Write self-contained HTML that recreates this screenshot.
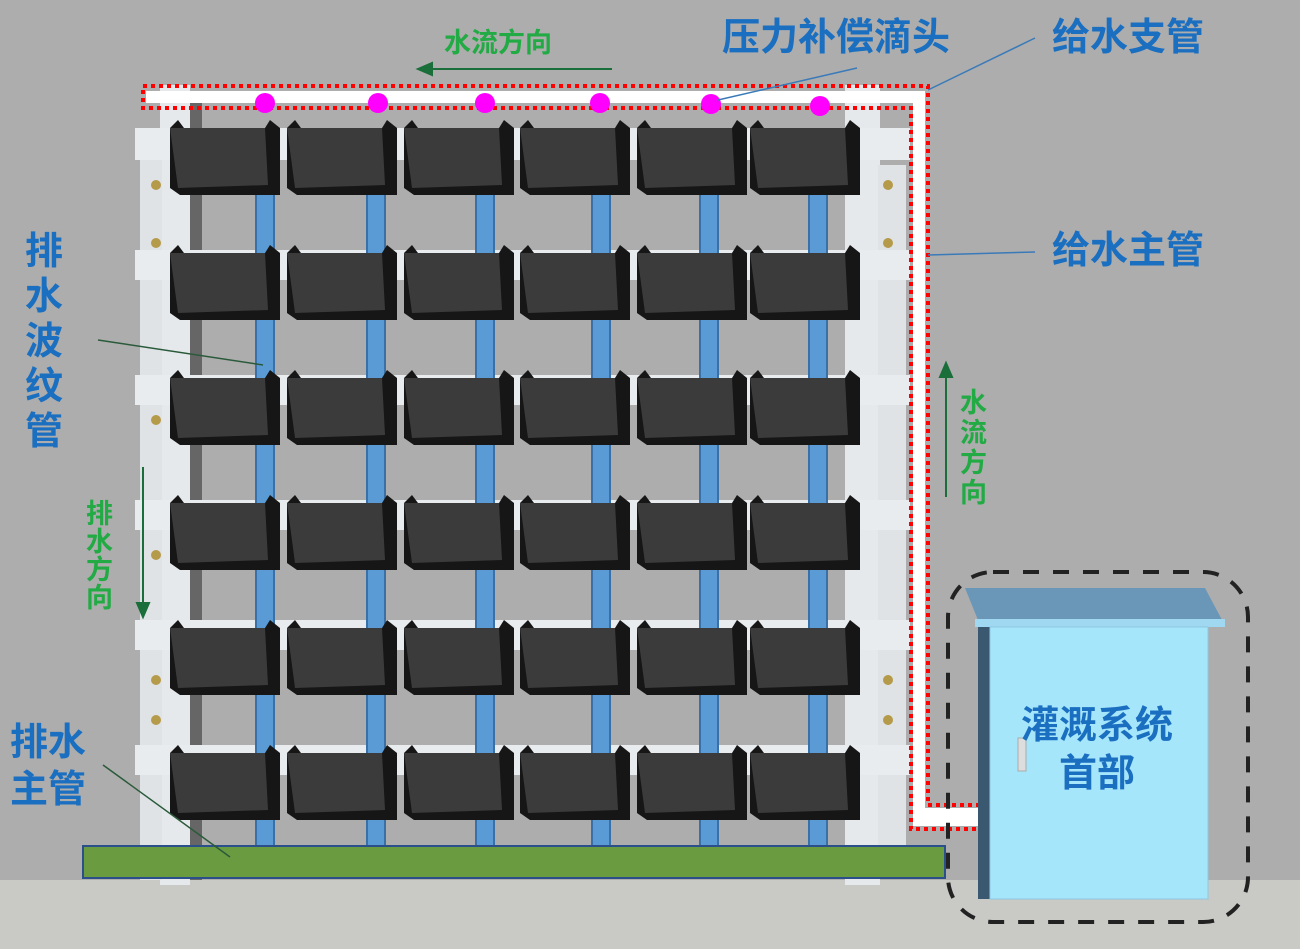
<!DOCTYPE html>
<html><head><meta charset="utf-8"><style>body{margin:0;}svg{display:block}</style></head><body>
<svg width="1300" height="949" viewBox="0 0 1300 949" xmlns="http://www.w3.org/2000/svg" font-family="Liberation Sans, Noto Sans CJK SC, sans-serif" font-weight="bold">
<rect width="1300" height="949" fill="#adadad"/>
<rect y="880" width="1300" height="69" fill="#c9c9c5"/>
<rect x="160" y="85" width="30" height="800" fill="#e6e9ec"/>
<rect x="140" y="160" width="22" height="720" fill="#dfe3e6"/>
<rect x="190" y="100" width="12" height="780" fill="#666"/>
<rect x="845" y="85" width="35" height="800" fill="#e6e9ec"/>
<rect x="878" y="165" width="28" height="700" fill="#dfe3e6"/>
<g fill="#e9ecef">
<rect x="135" y="128" width="775" height="32"/><rect x="135" y="250" width="775" height="30"/>
<rect x="135" y="375" width="775" height="30"/><rect x="135" y="500" width="775" height="30"/>
<rect x="135" y="620" width="775" height="30"/><rect x="135" y="745" width="775" height="30"/>
</g>
<g fill="#b59a4a">
<circle cx="156" cy="185" r="5"/><circle cx="156" cy="243" r="5"/><circle cx="156" cy="420" r="5"/><circle cx="156" cy="555" r="5"/><circle cx="156" cy="680" r="5"/><circle cx="156" cy="720" r="5"/>
<circle cx="888" cy="185" r="5"/><circle cx="888" cy="243" r="5"/><circle cx="888" cy="680" r="5"/><circle cx="888" cy="720" r="5"/>
</g>
<g fill="#5b9bd5" stroke="#3a70a8" stroke-width="2">
<rect x="256" y="190" width="18" height="660"/><rect x="367" y="190" width="18" height="660"/><rect x="476" y="190" width="18" height="660"/>
<rect x="592" y="190" width="18" height="660"/><rect x="700" y="190" width="18" height="660"/><rect x="809" y="190" width="18" height="660"/>
</g>
<defs>
<g id="pot">
<polygon points="0,8 95,8 100,0 110,8 110,75 10,75 0,68" fill="#161616"/>
<polygon points="0,8 95,8 98,65 8,68" fill="#3b3b3b"/>
<polygon points="0,8 8,0 14,8" fill="#161616"/>
</g>
</defs>
<g>
<use href="#pot" x="170" y="120"/><use href="#pot" x="287" y="120"/><use href="#pot" x="404" y="120"/><use href="#pot" x="520" y="120"/><use href="#pot" x="637" y="120"/><use href="#pot" x="750" y="120"/>
<use href="#pot" x="170" y="245"/><use href="#pot" x="287" y="245"/><use href="#pot" x="404" y="245"/><use href="#pot" x="520" y="245"/><use href="#pot" x="637" y="245"/><use href="#pot" x="750" y="245"/>
<use href="#pot" x="170" y="370"/><use href="#pot" x="287" y="370"/><use href="#pot" x="404" y="370"/><use href="#pot" x="520" y="370"/><use href="#pot" x="637" y="370"/><use href="#pot" x="750" y="370"/>
<use href="#pot" x="170" y="495"/><use href="#pot" x="287" y="495"/><use href="#pot" x="404" y="495"/><use href="#pot" x="520" y="495"/><use href="#pot" x="637" y="495"/><use href="#pot" x="750" y="495"/>
<use href="#pot" x="170" y="620"/><use href="#pot" x="287" y="620"/><use href="#pot" x="404" y="620"/><use href="#pot" x="520" y="620"/><use href="#pot" x="637" y="620"/><use href="#pot" x="750" y="620"/>
<use href="#pot" x="170" y="745"/><use href="#pot" x="287" y="745"/><use href="#pot" x="404" y="745"/><use href="#pot" x="520" y="745"/><use href="#pot" x="637" y="745"/><use href="#pot" x="750" y="745"/>
</g>
<rect x="83" y="846" width="862" height="32" fill="#6a9b40" stroke="#2a4f8a" stroke-width="2"/>
<rect x="146" y="91" width="778" height="12" fill="#fff"/>
<rect x="913" y="91" width="12" height="720" fill="#fff"/>
<rect x="913" y="808" width="70" height="18" fill="#fff"/>
<g fill="none" stroke="#f00" stroke-width="4" stroke-dasharray="4,4">
<polyline points="143,86 928,86 928,805 984,805 984,829 911,829 911,108 143,108 143,86"/>
</g>
<g fill="#f0f">
<circle cx="265" cy="103" r="10"/><circle cx="378" cy="103" r="10"/><circle cx="485" cy="103" r="10"/><circle cx="600" cy="103" r="10"/><circle cx="711" cy="104" r="10"/><circle cx="820" cy="106" r="10"/>
</g>
<rect x="948" y="572" width="300" height="350" rx="45" fill="none" stroke="#222" stroke-width="4" stroke-dasharray="16,14"/>
<polygon points="965,588 1205,588 1222,620 978,620" fill="#6a96b8"/>
<rect x="975" y="619" width="250" height="8" fill="#9fd8f0"/>
<rect x="978" y="627" width="12" height="272" fill="#3a5870"/>
<rect x="990" y="627" width="218" height="272" fill="#a6e6fb" stroke="#8ec8e0"/>
<rect x="1018" y="738" width="8" height="33" fill="#ddd" stroke="#aaa"/>
<text x="1097" y="738" font-size="38" fill="#1a6fc0" text-anchor="middle">灌溉系统</text>
<text x="1097" y="786" font-size="38" fill="#1a6fc0" text-anchor="middle">首部</text>
<g fill="#1a6fc0" font-size="38">
<text x="722" y="50">压力补偿滴头</text>
<text x="1052" y="50">给水支管</text>
<text x="1052" y="263">给水主管</text>
<text x="10" y="755">排水</text><text x="10" y="802">主管</text>
<text x="25" y="264">排</text><text x="25" y="309">水</text><text x="25" y="354">波</text><text x="25" y="399">纹</text><text x="25" y="444">管</text>
</g>
<g fill="#22aa44" font-size="27">
<text x="444" y="52">水流方向</text>
<text x="86" y="523">排</text><text x="86" y="551">水</text><text x="86" y="579">方</text><text x="86" y="607">向</text>
<text x="960" y="412">水</text><text x="960" y="442">流</text><text x="960" y="472">方</text><text x="960" y="502">向</text>
</g>
<g stroke="#1a6e3a" stroke-width="2" fill="#1a6e3a">
<line x1="430" y1="69" x2="612" y2="69"/><polygon points="418,69 432,63 432,75"/>
<line x1="143" y1="467" x2="143" y2="605"/><polygon points="143,617 137,603 149,603"/>
<line x1="946" y1="377" x2="946" y2="497"/><polygon points="946,363 940,377 952,377"/>
</g>
<g stroke="#3a7ab8" stroke-width="1.5">
<line x1="718" y1="100" x2="857" y2="68"/>
<line x1="928" y1="90" x2="1035" y2="38"/>
<line x1="928" y1="255" x2="1035" y2="252"/>
</g>
<g stroke="#2a5a3a" stroke-width="1.5">
<line x1="98" y1="340" x2="263" y2="365"/>
<line x1="103" y1="765" x2="230" y2="857"/>
</g>
</svg>
</body></html>
